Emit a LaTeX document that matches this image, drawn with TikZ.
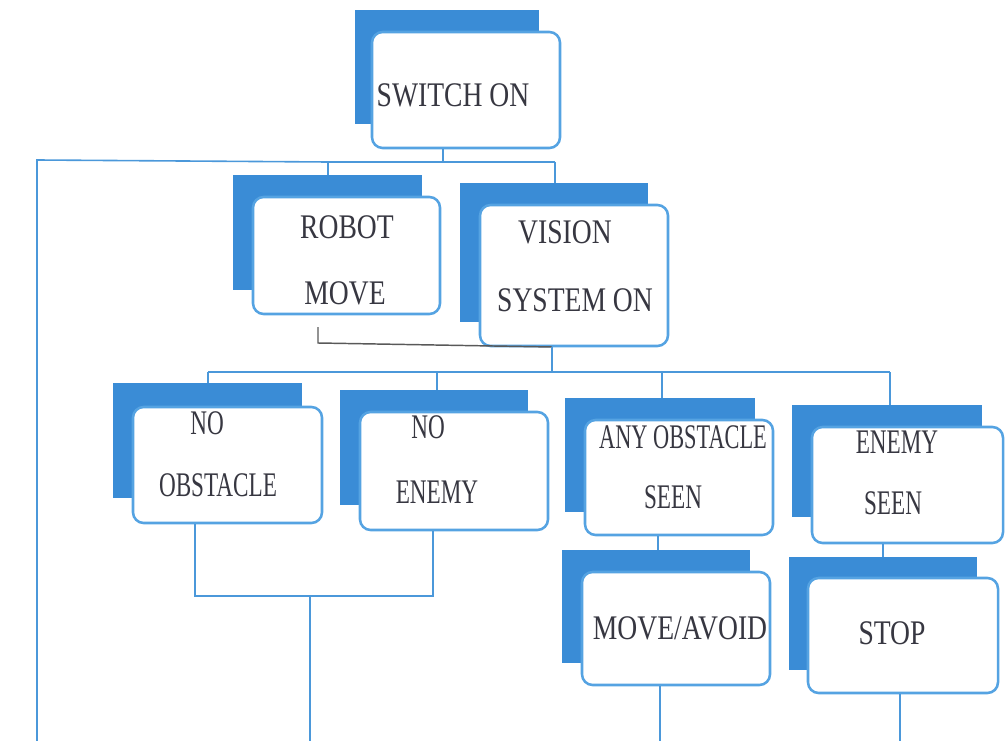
\documentclass[tikz,border=0pt]{standalone}
\usepackage{fontspec}
\setmainfont{Liberation Serif}
\usepackage{graphicx}
\definecolor{shadblue}{RGB}{58,140,214}
\definecolor{edgeblue}{RGB}{85,163,226}
\definecolor{lineblue}{RGB}{75,152,218}
\definecolor{txtcol}{RGB}{55,55,65}
\newcommand\tx[2][1]{\scalebox{#1}[1.25]{#2}}
\begin{document}
\begin{tikzpicture}[x=0.75pt,y=-0.75pt,
 shad/.style={fill=shadblue, draw=none, rectangle, inner sep=0pt},
 card/.style={fill=white, draw=edgeblue, line width=1.9pt, rounded corners=8pt, rectangle, inner sep=0pt},
 conn/.style={draw=lineblue, line width=1.2pt},
 gconn/.style={draw=black!65, line width=1.1pt},
 lbl/.style={font=\fontsize{20.7}{24}\selectfont, text=txtcol, inner sep=0pt}]
\useasboundingbox (0,0) rectangle (1005,741);

% ---- boxes (shadow first, then card)
\node[shad, minimum width=138pt, minimum height=85.5pt] (sw-s) at (447,67) {};
\node[card, minimum width=141pt, minimum height=87pt] (sw) at (466,90) {};

\node[shad, minimum width=141.75pt, minimum height=86.25pt] (rm-s) at (327.5,232.5) {};
\node[card, minimum width=140.25pt, minimum height=87.75pt] (rm) at (346.5,255.5) {};

\node[shad, minimum width=141pt, minimum height=104.25pt] (vs-s) at (554,252.5) {};
\node[card, minimum width=141pt, minimum height=105.75pt] (vs) at (574,275.5) {};

\node[shad, minimum width=141.75pt, minimum height=86.25pt] (no-s) at (207.5,440.5) {};
\node[card, minimum width=141.75pt, minimum height=87pt] (no) at (227.5,465) {};

\node[shad, minimum width=141pt, minimum height=86.25pt] (ne-s) at (434,447.5) {};
\node[card, minimum width=141pt, minimum height=88.5pt] (ne) at (454,471) {};

\node[shad, minimum width=142.5pt, minimum height=85.5pt] (ao-s) at (660,455) {};
\node[card, minimum width=141pt, minimum height=86.25pt] (ao) at (679,477.5) {};

\node[shad, minimum width=142.5pt, minimum height=84pt] (es-s) at (887,461) {};
\node[card, minimum width=143.25pt, minimum height=87pt] (es) at (907.5,485) {};

\node[shad, minimum width=141pt, minimum height=84.75pt] (ma-s) at (656,606.5) {};
\node[card, minimum width=141pt, minimum height=84.75pt] (ma) at (676,628.5) {};

\node[shad, minimum width=141pt, minimum height=84.75pt] (st-s) at (883,613.5) {};
\node[card, minimum width=142.5pt, minimum height=86.25pt] (st) at (903,635.5) {};

% ---- labels
\node[lbl] (t-sw) at (453,95) {\tx{SWITCH ON}};
\node[lbl] (t-rm1) at (347,227) {\tx{ROBOT}};
\node[lbl] (t-rm2) at (345,293) {\tx{MOVE}};
\node[lbl] (t-vs1) at (565,232) {\tx{VISION}};
\node[lbl] (t-vs2) at (575,300) {\tx{SYSTEM ON}};
\node[lbl] (t-no1) at (207,423) {\tx[0.84]{NO}};
\node[lbl] (t-no2) at (218,485) {\tx[0.84]{OBSTACLE}};
\node[lbl] (t-ne1) at (428,427) {\tx[0.84]{NO}};
\node[lbl] (t-ne2) at (437,492) {\tx[0.84]{ENEMY}};
\node[lbl] (t-ao1) at (683,437) {\tx[0.81]{ANY OBSTACLE}};
\node[lbl] (t-ao2) at (673,497) {\tx[0.84]{SEEN}};
\node[lbl] (t-es1) at (897,442) {\tx[0.84]{ENEMY}};
\node[lbl] (t-es2) at (893,503) {\tx[0.84]{SEEN}};
\node[lbl] (t-ma) at (680,628) {\tx{MOVE/AVOID}};
\node[lbl] (t-st) at (892,633) {\tx{STOP}};

% ---- junction coordinates
\coordinate (b1m) at (443,162);
\coordinate (b1l) at (328,162);
\coordinate (b1r) at (555,162);
\coordinate (lt) at (37,160);
\coordinate (lb) at (37,741);
\coordinate (g0) at (318,327);
\coordinate (g1) at (318,343);
\coordinate (g2) at (552,347);
\coordinate (b2v) at (552,372);
\coordinate (b2a) at (208,372);
\coordinate (b2b) at (437,372);
\coordinate (b2c) at (662,372);
\coordinate (b2d) at (890,372);
\coordinate (u1) at (195,596);
\coordinate (u2) at (433,596);
\coordinate (um) at (310,596);
\coordinate (umb) at (310,741);
\coordinate (mab) at (660,741);
\coordinate (stb) at (900,741);

% ---- connectors
\draw[conn] (sw.south -| b1m) -- (b1m);
\draw[conn] (b1l) -- (b1r);
\draw[conn] (b1l) -- (rm-s.north -| b1l);
\draw[conn] (b1r) -- (vs-s.north -| b1r);
\draw[conn] (b1l) -- (lt) -- (lb);

\draw[gconn] (g0) -- (g1) -- (g2);
\draw[conn] (vs.south -| g2) -- (b2v);

\draw[conn] (b2a) -- (b2d);
\draw[conn] (b2a) -- (no-s.north -| b2a);
\draw[conn] (b2b) -- (ne-s.north -| b2b);
\draw[conn] (b2c) -- (ao-s.north -| b2c);
\draw[conn] (b2d) -- (es-s.north -| b2d);

\draw[conn] (no.south -| u1) -- (u1) -- (u2) -- (ne.south -| u2);
\draw[conn] (um) -- (umb);

\draw[conn] (ao.south -| 658,0) -- (ma-s.north -| 658,0);
\draw[conn] (ma.south -| mab) -- (mab);
\draw[conn] (es.south -| 883,0) -- (st-s.north -| 883,0);
\draw[conn] (st.south -| stb) -- (stb);
\end{tikzpicture}
\end{document}
